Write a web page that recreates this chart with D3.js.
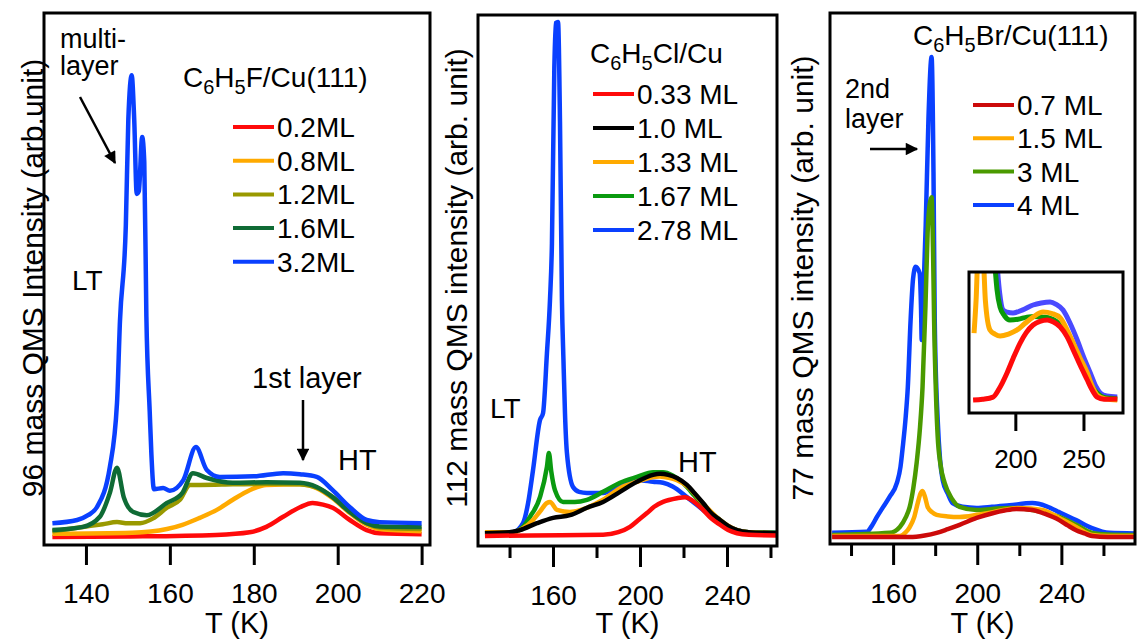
<!DOCTYPE html>
<html>
<head>
<meta charset="utf-8">
<script src="https://cdn.jsdelivr.net/npm/d3@7/dist/d3.min.js"></script>
<style>
body { margin: 0; background: #fff; }
svg { font-family: "Liberation Sans", Arial, sans-serif; }
</style>
</head>
<body>
<svg id="chart" width="1139" height="642"></svg>
<script>
// C6H5F / Cu(111), 96 amu  [T (K), intensity]
const fLabels = ['0.2ML', '0.8ML', '1.2ML', '1.6ML', '3.2ML'];
const fColors = ['#ff0a0a', '#ffaa00', '#999900', '#0f6b35', '#0a40ff'];
const f02 = [[132,1.5],[150,1.6],[171,1.9],[179,2.4],[183,3.4],[187,5.3],[191,7.1],[194,7.9],[196.5,7.6],[198.8,7.0],[202.9,4.7],[206.9,2.8],[210,2.2],[220,2.0]];
const f08 = [[132,2.1],[151,2.3],[159.3,3.0],[163,3.8],[167.1,5.1],[171.2,6.6],[175,8.5],[179,10.3],[183,11.3],[191,11.4],[195,10.7],[198.8,8.8],[202.9,6.0],[206.9,3.8],[210,3.0],[220,2.6]];
const f12 = [[132,2.6],[139.3,3.4],[144,3.9],[147.4,4.3],[150,4.1],[152.9,4.1],[156,5.0],[159.3,7.0],[162.4,8.5],[164.8,11.3],[167.1,11.3],[175,11.4],[183,11.5],[191,11.4],[195,10.8],[198.8,9.0],[202.9,6.2],[206.9,4.1],[210,3.3],[220,3.0]];
const f16 = [[132,2.8],[139.3,3.4],[143.3,5.3],[145.7,9.8],[147.4,14.5],[149,9.0],[151.3,6.2],[154.5,5.6],[159.3,7.9],[163,9.8],[165.5,13.5],[168.8,12.6],[175,11.7],[183,11.8],[191,11.7],[195,10.9],[198.8,9.0],[202.9,6.2],[206.9,4.1],[210,3.5],[220,3.4]];
const f32 = [[132,4.1],[137.9,4.7],[140.5,5.6],[142.6,7.1],[145.7,14.7],[147.4,26.7],[148.1,42],[149.5,60],[150.1,80],[150.9,88.3],[151.5,80],[152.1,66],[152.6,66.5],[153.4,76.7],[153.9,72],[154.4,43],[155.2,25],[155.6,17],[156.2,10.5],[158.4,10.7],[160,10.2],[163.2,12.2],[166.2,18.4],[168.8,14.1],[171.9,12.8],[180,12.9],[187,13.5],[191,13.3],[195,12.8],[198.8,10.3],[202.9,7.1],[206.9,4.7],[210,4.3],[220,4.1]];

// C6H5Cl / Cu, 112 amu
const cLabels = ['0.33 ML', '1.0 ML', '1.33 ML', '1.67 ML', '2.78 ML'];
const cColors = ['#ff0a0a', '#000000', '#ffaa00', '#0a9a10', '#0a40ff'];
const c033 = [[128.7,1.9],[150,2.0],[183,2.1],[190,2.6],[195.4,3.6],[199,4.8],[203.2,6.2],[206.5,7.4],[210.6,8.3],[217,9.0],[220.7,9.2],[224,8.6],[229,6.8],[232.5,5.3],[236.8,4.0],[240.5,3.0],[244.6,2.4],[250,2.1],[263,2.0]];
const c10 = [[128.7,2.4],[140,2.6],[144.8,3.0],[152.6,4.3],[160,5.3],[167.8,5.8],[175.6,7.2],[183,8.3],[190.8,10.2],[198.6,12.1],[206,13.4],[209.2,13.6],[213,13.4],[217,12.8],[221.6,11.5],[225,10.0],[229,8.1],[232.5,6.3],[236.8,4.9],[240.5,3.8],[244.6,3.0],[250,2.6],[263,2.4]];
const c133 = [[128.7,2.6],[141.6,2.6],[146,3.3],[150.8,4.9],[154,6.5],[157.2,8.1],[158.6,8.3],[161.8,6.8],[167.8,6.4],[175.6,7.2],[183,8.7],[190.8,10.9],[198.6,12.1],[206,13.0],[209,13.1],[213.8,12.8],[217,12.4],[221.6,11.3],[229,8.0],[236.8,4.9],[244.6,3.0],[250,2.6],[263,2.4]];
const c167 = [[128.7,2.5],[141.6,2.6],[146,3.5],[149.4,5.5],[154,9.2],[157.2,14.9],[158.1,17.5],[159.2,14],[160.9,10.5],[164.6,8.3],[170,8.3],[175.6,8.7],[183,10.2],[190.8,11.9],[198.6,13.0],[206,13.9],[210.6,13.9],[215,13.3],[221.6,11.1],[225,9.5],[229,7.7],[232.5,6.2],[236.8,4.9],[240.5,3.7],[244.6,3.0],[250,2.6],[263,2.5]];
const c278 = [[128.7,2.4],[141.6,2.6],[146.2,4.3],[148.5,8],[150.8,14.3],[154,23.7],[155.4,25],[157.2,36.3],[158.6,46.3],[159.5,57],[160.6,90],[161.3,98.5],[162.3,98.7],[163.2,80],[164.1,46.3],[164.8,35],[165.5,25],[166.4,17.5],[169.2,11.1],[172,10.2],[175.6,10],[183,10.0],[190.8,11.5],[198.6,12.4],[206,12.1],[210.6,11.9],[215,11.2],[221.6,9.2],[229,6.8],[236.8,4.3],[244.6,3.0],[250,2.6],[263,2.5]];

// C6H5Br / Cu(111), 77 amu
const bLabels = ['0.7 ML', '1.5 ML', '3 ML', '4 ML'];
const bColors = ['#cc0a0a', '#ffaa00', '#4a9a00', '#0a40ff'];
const b07 = [[131,1.3],[150,1.3],[167.9,1.3],[175,1.6],[180.7,2.1],[186,2.8],[191.6,3.6],[199.7,4.9],[207.3,5.8],[213,6.3],[218.6,6.6],[226.2,6.4],[232,5.7],[239,4.5],[243,3.5],[247,2.6],[251,2.0],[254.6,1.5],[262,1.3],[275,1.3]];
const b15 = [[131,1.5],[163.2,1.5],[166,2.2],[167.9,3.2],[170,5.0],[171.7,7.7],[173,9.5],[174,10.0],[175.2,8.8],[176.4,7.0],[178.5,6.0],[180.7,5.5],[186,5.2],[191.6,5.1],[200,5.5],[207.3,6.0],[214,6.5],[220,6.8],[231,6.4],[239,4.9],[247,3.2],[254.6,1.7],[262,1.5],[275,1.5]];
const b3 = [[131,1.7],[158.4,2.1],[163.2,3.2],[166,5],[167.9,7],[169.6,10.5],[171.2,15.3],[172.8,22],[174,29.6],[175.4,45],[176.4,58.6],[177.4,64],[178.3,65.3],[179.0,55],[179.5,42],[180.4,28],[181.2,20.2],[182.5,15],[184.5,11.5],[188,8.5],[191.6,7.0],[199.7,6.4],[207,6.6],[215.3,6.8],[226.2,6.4],[233,5.8],[239,5.1],[247,3.6],[254.6,2.1],[262,1.8],[275,1.7]];
const b4 = [[131,2.1],[147.5,2.3],[150,3.5],[152.3,5.1],[155,6.8],[158.4,8.9],[161.8,11.5],[163.5,14.5],[164.6,18.3],[166,24],[167,29.6],[168.3,42],[169.5,50],[170.7,52.2],[172.6,51],[173.3,44],[173.6,38.4],[174.2,45],[175.5,60],[176.8,80],[178.3,91.7],[179.2,70],[179.8,42],[181.2,23.4],[182.3,16],[183.6,12],[186,9.5],[188.3,7.7],[193,7.0],[199.7,6.8],[207,7.0],[215.3,7.3],[226.2,7.7],[233,7.1],[239,6.0],[247,4.5],[254.6,3.0],[262.7,2.1],[275,2.0]];

// inset, magnified HT region
const insetColors = ['#ff0a0a', '#ffaa00', '#0a9a0a', '#4a4aff'];
const iRed = [[169,9.2],[176,9.8],[183.6,11.3],[188,17],[193.9,28.4],[198.5,39],[203.5,49.6],[208,57],[213,62.4],[218,65],[223.4,66],[228,64.5],[233,61],[238,54],[242.5,44.7],[247.5,34],[252.8,23.4],[256,17],[260,11.3],[265,9.8],[274.8,9.9]];
const iOrange = [[169.7,56.7],[171.2,80],[172.6,110],[176.3,110],[178,80],[181.4,58.9],[185,56],[188.8,54.6],[195,56],[201.3,58.9],[207,63.5],[213,68],[220.4,71.6],[227,70.5],[233,67.4],[238,59],[242.5,49.6],[247.5,39],[252.8,28.4],[256,20],[260,12.8],[266,10],[274.8,9.2]];
const iGreen = [[185,105],[186.5,88],[188.8,75],[192,69],[196,66],[202,66.5],[208.6,68],[214,68.5],[220.4,68],[226,67],[233,62.5],[238,55],[242.5,46.8],[247.5,36],[252.8,25.5],[256,19],[260,14.2],[265,11],[274.8,10]];
const iBlue = [[186.6,105],[188.5,85],[191,73],[194,71.5],[198.3,70.9],[205,73],[213,76.6],[219,78],[225.5,78.7],[230,77],[235,73],[240,64],[245.4,51.8],[250,40],[255,28.4],[259,19],[262.3,14.2],[267,12],[274.8,11.3]];

const svg = d3.select('#chart');

svg.append('defs').append('marker')
    .attr('id', 'arrow')
    .attr('viewBox', '0 0 10 10')
    .attr('refX', 9).attr('refY', 5)
    .attr('markerWidth', 6).attr('markerHeight', 5)
    .attr('markerUnits', 'strokeWidth')
    .attr('orient', 'auto')
    .append('path')
    .attr('d', 'M0,0 L10,5 L0,10 Z')
    .attr('fill', '#000');

function label(x, y, str, size, anchor) {
    return svg.append('text')
        .attr('x', x).attr('y', y)
        .attr('font-size', size || 28)
        .attr('text-anchor', anchor || 'start')
        .text(str);
}

function formula(x, y, parts) {
    const t = svg.append('text').attr('x', x).attr('y', y).attr('font-size', 28);
    var shift = 0;
    parts.forEach(function (p) {
        const sub = p[1] == 1;
        const dy = sub ? 7 - shift : -shift;
        shift = sub ? 7 : 0;
        t.append('tspan')
            .attr('dy', dy)
            .attr('font-size', sub ? 20 : 28)
            .text(p[0]);
    });
}

function arrow(x1, y1, x2, y2) {
    svg.append('line')
        .attr('x1', x1).attr('y1', y1)
        .attr('x2', x2).attr('y2', y2)
        .attr('stroke', '#000')
        .attr('stroke-width', 2.5)
        .attr('marker-end', 'url(#arrow)');
}

function panel(p) {
    const x = d3.scaleLinear().domain(p.xDomain).range([p.left, p.right]);
    const y = d3.scaleLinear().domain([0, 100]).range([p.bottom, p.top]);
    const line = d3.line()
        .curve(d3.curveMonotoneX)
        .x(d => x(d[0]))
        .y(d => y(d[1]));

    if (p.fill) {
        svg.append('rect')
            .attr('x', p.left).attr('y', p.top)
            .attr('width', p.right - p.left).attr('height', p.bottom - p.top)
            .attr('fill', p.fill);
    }

    svg.append('clipPath').attr('id', 'clip-' + p.id)
        .append('rect')
        .attr('x', p.left).attr('y', p.top)
        .attr('width', p.right - p.left).attr('height', p.bottom - p.top);

    svg.append('g')
        .attr('clip-path', 'url(#clip-' + p.id + ')')
        .selectAll('path')
        .data(p.order)
        .join('path')
        .attr('d', i => line(p.series[i]))
        .attr('fill', 'none')
        .attr('stroke', i => p.colors[i])
        .attr('stroke-width', p.lineWidth || 4.5)
        .attr('stroke-linejoin', 'round');

    svg.append('rect')
        .attr('x', p.left).attr('y', p.top)
        .attr('width', p.right - p.left).attr('height', p.bottom - p.top)
        .attr('fill', 'none')
        .attr('stroke', '#000')
        .attr('stroke-width', 3);

    if (p.minor) {
        const minorAxis = svg.append('g')
            .attr('transform', 'translate(0,' + p.bottom + ')')
            .call(d3.axisBottom(x).tickValues(p.minor).tickSize(p.minorSize).tickFormat(''));
        minorAxis.select('.domain').remove();
        minorAxis.selectAll('line').attr('stroke-width', 3);
    }

    const axis = svg.append('g')
        .attr('transform', 'translate(0,' + p.bottom + ')')
        .call(d3.axisBottom(x).tickValues(p.ticks).tickSize(p.tickSize).tickPadding(p.tickPadding).tickFormat(d3.format('d')));
    axis.select('.domain').remove();
    axis.selectAll('line').attr('stroke-width', 3);
    axis.selectAll('text')
        .attr('font-size', p.tickFont || 28)
        .attr('font-family', '"Liberation Sans", Arial, sans-serif')
        .attr('fill', '#000');

    if (p.xTitle) {
        label((p.left + p.right) / 2, 633, 'T (K)', 29, 'middle');
    }
    if (p.yTitle) {
        svg.append('text')
            .attr('transform', 'translate(' + p.yTitleX + ',278) rotate(-90)')
            .attr('text-anchor', 'middle')
            .attr('font-size', 30)
            .text(p.yTitle);
    }
    if (p.legend) {
        const lg = svg.append('g');
        p.legend.forEach(function (name, i) {
            const cy = p.legendY + i * p.legendStep;
            lg.append('line')
                .attr('x1', p.legendX).attr('x2', p.legendX + 41)
                .attr('y1', cy).attr('y2', cy)
                .attr('stroke', p.colors[i])
                .attr('stroke-width', 4);
            lg.append('text')
                .attr('x', p.legendX + 44).attr('y', cy + 10)
                .attr('font-size', 28)
                .text(name);
        });
    }
}

panel({
    id: 'f', left: 44, right: 430, top: 13, bottom: 545,
    xDomain: [130, 222],
    series: [f02, f08, f12, f16, f32], colors: fColors, order: [0, 1, 2, 3, 4],
    ticks: [140, 160, 180, 200, 220], tickSize: 20, tickPadding: 18,
    xTitle: true, yTitle: '96 mass QMS Intensity (arb.unit)', yTitleX: 43,
    legend: fLabels, legendX: 233, legendY: 127, legendStep: 33.7
});

panel({
    id: 'c', left: 478, right: 777, top: 15, bottom: 546,
    xDomain: [125.5, 263],
    series: [c033, c10, c133, c167, c278], colors: cColors, order: [4, 3, 2, 1, 0],
    ticks: [160, 200, 240], tickSize: 21, tickPadding: 18,
    minor: [140, 180, 220, 260], minorSize: 12,
    xTitle: true, yTitle: '112 mass QMS intensity (arb. unit)', yTitleX: 467,
    legend: cLabels, legendX: 593, legendY: 94, legendStep: 34
});

panel({
    id: 'b', left: 830, right: 1135, top: 13, bottom: 544,
    xDomain: [130, 275],
    series: [b07, b15, b3, b4], colors: bColors, order: [3, 2, 1, 0],
    ticks: [160, 200, 240], tickSize: 21, tickPadding: 18,
    minor: [140, 180, 220, 260], minorSize: 12,
    xTitle: true, yTitle: '77 mass QMS intensity (arb. unit)', yTitleX: 813,
    legend: bLabels, legendX: 973, legendY: 105, legendStep: 33.3
});

panel({
    id: 'inset', left: 969, right: 1123, top: 272, bottom: 413, fill: '#fff',
    xDomain: [166, 279], lineWidth: 5,
    series: [iRed, iOrange, iGreen, iBlue], colors: insetColors, order: [3, 2, 1, 0],
    ticks: [200, 250], tickSize: 18, tickPadding: 19, tickFont: 26
});

// annotations
label(60, 48, 'multi-', 27);
label(60, 75, 'layer', 27);
arrow(80, 97, 115, 163);
formula(183, 87, [['C', 0], ['6', 1], ['H', 0], ['5', 1], ['F/Cu(111)', 0]]);
label(72, 290, 'LT', 28);
label(252, 388, '1st layer', 29);
arrow(303, 400, 303, 460);
label(338, 470, 'HT', 29);

formula(590, 63, [['C', 0], ['6', 1], ['H', 0], ['5', 1], ['Cl/Cu', 0]]);
label(490, 418, 'LT', 28);
label(678, 472, 'HT', 29);

formula(913, 45, [['C', 0], ['6', 1], ['H', 0], ['5', 1], ['Br/Cu(111)', 0]]);
label(845, 98, '2nd', 27);
label(845, 128, 'layer', 27);
arrow(870, 149, 917, 149);
</script>
</body>
</html>
